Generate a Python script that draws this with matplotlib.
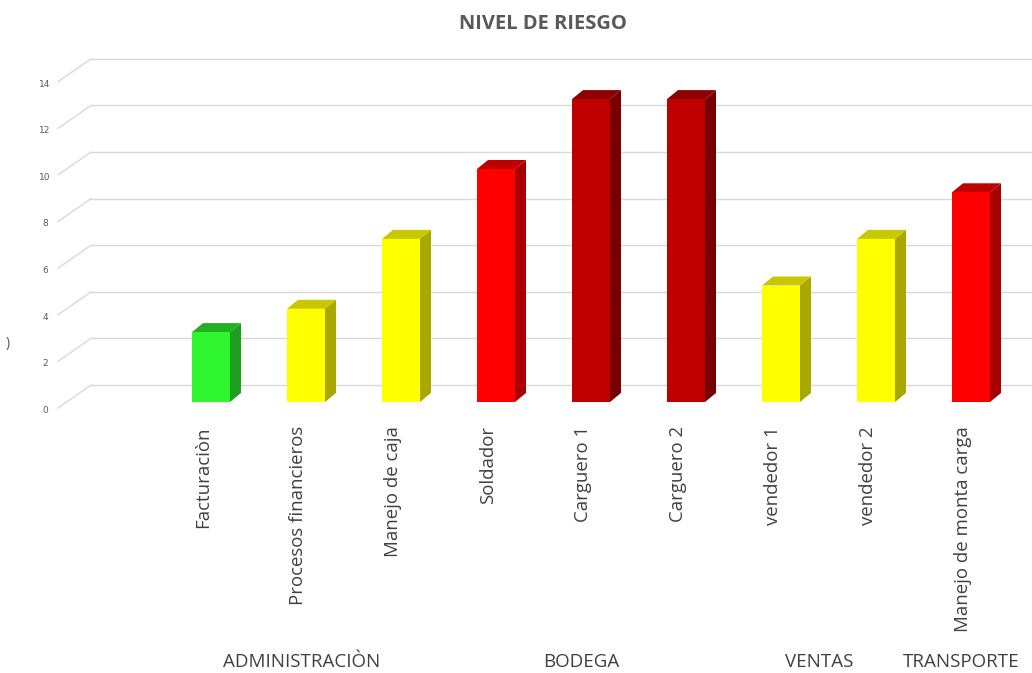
import matplotlib
matplotlib.use("Agg")
import matplotlib.pyplot as plt
from matplotlib.patches import Polygon

# ---- data ----
categories = ["Facturaciòn", "Procesos financieros", "Manejo de caja", "Soldador",
              "Carguero 1", "Carguero 2", "vendedor 1", "vendedor 2",
              "Manejo de monta carga"]
values = [3, 4, 7, 10, 13, 13, 5, 7, 9]
levels = ["bajo", "medio", "medio", "alto", "muy_alto", "muy_alto", "medio", "medio", "alto"]
groups = ["ADMINISTRACIÒN", "BODEGA", "VENTAS", "TRANSPORTE"]
group_centers = [0.95, 3.9, 6.4, 7.9]
yticks = [0, 2, 4, 6, 8, 10, 12, 14]
title = "NIVEL DE RIESGO"

# colours (front, side, top)
palette = {
    "bajo": ("#2EF52E", "#1F9F1F", "#22B022"),
    "medio": ("#FFFF00", "#A8A800", "#C8C800"),
    "alto": ("#FF0000", "#A80000", "#C00000"),
    "muy_alto": ("#C00000", "#780000", "#8C0000"),
}

W, H = 1032, 673
fig = plt.figure(figsize=(W / 100, H / 100), dpi=100)
ax = fig.add_axes([0, 0, 1, 1])

# pixel mapping: x_px = 211 + 95*x ; y_px(from top) = 402 - 23.3*v
px_per_x = 95.0
px_per_v = 23.3
ax.set_xlim((0 - 211) / px_per_x, (W - 211) / px_per_x)
ax.set_ylim((402 - H) / px_per_v, 402 / px_per_v)
ax.axis("off")

bar_w = 38 / px_per_x
ddx = 11 / px_per_x
ddy = 9 / px_per_v

# gridlines (3D-like wall)
x_front = (58 - 211) / px_per_x
x_back = (91 - 211) / px_per_x
front_off = -6 / px_per_v
back_off = 17 / px_per_v
for v in yticks:
    ax.plot([x_front, x_back], [v + front_off, v + back_off], color="#D9D9D9", lw=1.0, zorder=1)
    ax.plot([x_back, (W - 211) / px_per_x], [v + back_off, v + back_off], color="#D9D9D9", lw=1.0, zorder=1)
    ax.text((45 - 211) / px_per_x, v + front_off - 0.1, str(v), ha="center", va="center",
            fontsize=6.5, color="#595959", family="DejaVu Sans")

# bars
xs = list(range(len(categories)))
bars = ax.bar(xs, values, width=bar_w, bottom=0, zorder=3, linewidth=0,
              color=[palette[l][0] for l in levels])
for x, v, l in zip(xs, values, levels):
    front, side, top = palette[l]
    x0, x1 = x - bar_w / 2, x + bar_w / 2
    ax.add_patch(Polygon([(x1, 0), (x1 + ddx, ddy), (x1 + ddx, v + ddy), (x1, v)],
                         closed=True, facecolor=side, edgecolor="none", zorder=2.9))
    ax.add_patch(Polygon([(x0, v), (x1, v), (x1 + ddx, v + ddy), (x0 + ddx, v + ddy)],
                         closed=True, facecolor=top, edgecolor="none", zorder=2.9))

# category labels
lab_top = (402 - 426) / px_per_v
for x, c in zip(xs, categories):
    ax.text(x - 8 / px_per_x, lab_top, c, rotation=90, ha="center", va="top",
            fontsize=13.4, color="#404040", family=["Open Sans", "DejaVu Sans"])

# group labels
gy = (402 - 662) / px_per_v
for g, gx in zip(groups, group_centers):
    ax.text(gx, gy, g, ha="center", va="center", fontsize=13.5, color="#404040",
            family=["Open Sans", "DejaVu Sans"])

# clipped axis title remnant
ax.text((8 - 211) / px_per_x, (402 - 343) / px_per_v, ")", ha="center", va="center",
        fontsize=10, color="#595959", family=["Open Sans", "DejaVu Sans"])

# title
ax.text((543 - 211) / px_per_x, (402 - 24) / px_per_v, title, ha="center", va="center",
        fontsize=14.5, fontweight="bold", color="#595959", family=["Open Sans", "DejaVu Sans"])

fig.savefig("out.png", dpi=100)
